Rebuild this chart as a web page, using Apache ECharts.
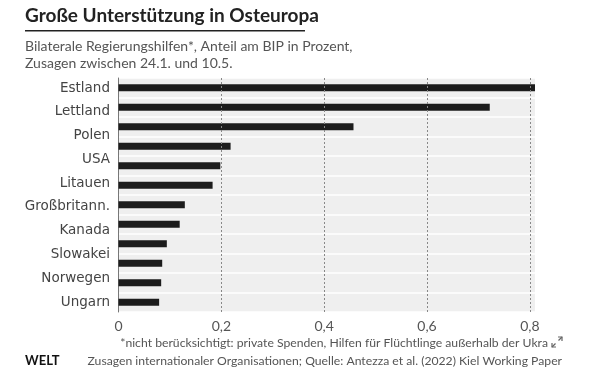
<!DOCTYPE html>
<html>
<head>
<meta charset="utf-8">
<script src="https://cdn.jsdelivr.net/npm/echarts@6/dist/echarts.min.js"></script>
<style>html,body{margin:0;padding:0;background:#fff}#c{width:590px;height:368px}</style>
</head>
<body>
<div id="c"></div>
<script>
// Country labels as printed (10 labels)
var countryLabels = ['Estland','Lettland','Polen','USA','Litauen','Großbritann.','Kanada','Slowakei','Norwegen','Ungarn'];
// Bars as drawn (12 bars, share of GDP in percent)
var barSlots = ['1','2','3','4','5','6','7','8','9','10','11','12'];
var barValues = [0.81, 0.722, 0.457, 0.218, 0.198, 0.183, 0.129, 0.119, 0.094, 0.085, 0.083, 0.079];
var tickValues = [0, 0.2, 0.4, 0.6, 0.8];

var FONT = 'Lato, "Noto Sans", sans-serif';
var WIDE = '"DejaVu Sans", sans-serif';
var chart = echarts.init(document.getElementById('c'), null, {renderer: 'canvas'});
var L = 118.5, R = 55;
chart.setOption({
  backgroundColor: '#fff',
  animation: false,
  grid: [
    {left: L, right: R, top: 78, bottom: 56, containLabel: false},
    {left: L, right: R, top: 88, bottom: 66, containLabel: false}
  ],
  xAxis: [
    {gridIndex: 0, type: 'value', min: 0, max: 0.81, interval: 0.2, z: 3,
     axisLine: {show: false}, axisTick: {show: false},
     axisLabel: {show: true, showMaxLabel: false, margin: 7, fontSize: 14, color: '#555', fontFamily: FONT,
       formatter: function (v) { return tickValues.indexOf(+v.toFixed(2)) >= 0 ? String(v).replace('.', ',') : ''; }},
     splitLine: {show: true, showMinLine: false, showMaxLine: false, lineStyle: {color: '#888', type: [2, 2], width: 1}}},
    {gridIndex: 1, type: 'value', min: 0, max: 0.81, show: false}
  ],
  yAxis: [
    {gridIndex: 0, type: 'category', data: barSlots, inverse: true, z: 1,
     axisLine: {show: true, lineStyle: {color: '#777', width: 1}},
     axisTick: {show: false}, axisLabel: {show: false},
     splitArea: {show: true, areaStyle: {color: ['#efefef', '#efefef']}},
     splitLine: {show: true, lineStyle: {color: '#fff', width: 1.5}}},
    {gridIndex: 1, type: 'category', data: countryLabels, inverse: true, boundaryGap: false,
     axisLine: {show: false}, axisTick: {show: false}, splitLine: {show: false},
     axisLabel: {show: true, margin: 8.5, fontSize: 13.5, color: '#444', fontFamily: WIDE}}
  ],
  series: [{
    type: 'bar', xAxisIndex: 0, yAxisIndex: 0, data: barValues,
    barWidth: 7, itemStyle: {color: '#1c1c1c'}, z: 2
  }],
  graphic: [
    {type: 'text', left: 25, top: 6, style: {text: 'Große Unterstützung in Osteuropa', font: 'bold 19px ' + FONT, fill: '#222'}},
    {type: 'rect', shape: {x: 25, y: 30, width: 280, height: 1.6}, style: {fill: '#222'}},
    {type: 'text', left: 25, top: 38, style: {text: 'Bilaterale Regierungshilfen*, Anteil am BIP in Prozent,\nZusagen zwischen 24.1. und 10.5.', font: '14px ' + FONT, fill: '#555', lineHeight: 17}},
    {type: 'text', x: 548, y: 343, style: {text: '*nicht berücksichtigt: private Spenden, Hilfen für Flüchtlinge außerhalb der Ukra', font: '12.2px ' + FONT, fill: '#555', align: 'right', verticalAlign: 'middle'}},
    {type: 'text', x: 562, y: 361, style: {text: 'Zusagen internationaler Organisationen; Quelle: Antezza et al. (2022) Kiel Working Paper', font: '12.2px ' + FONT, fill: '#555', align: 'right', verticalAlign: 'middle'}},
    {type: 'text', x: 25, y: 361, style: {text: 'WELT', font: 'bold 13px ' + FONT, fill: '#111', verticalAlign: 'middle'}},
    {type: 'polyline', shape: {points: [[558, 337], [562, 337], [562, 341]]}, style: {stroke: '#666', lineWidth: 1.2, fill: null}},
    {type: 'line', shape: {x1: 562, y1: 337, x2: 558.5, y2: 340.5}, style: {stroke: '#666', lineWidth: 1.2}},
    {type: 'polyline', shape: {points: [[552, 343], [552, 347], [556, 347]]}, style: {stroke: '#666', lineWidth: 1.2, fill: null}},
    {type: 'line', shape: {x1: 552, y1: 347, x2: 555.5, y2: 343.5}, style: {stroke: '#666', lineWidth: 1.2}}
  ]
});
</script>
</body>
</html>
